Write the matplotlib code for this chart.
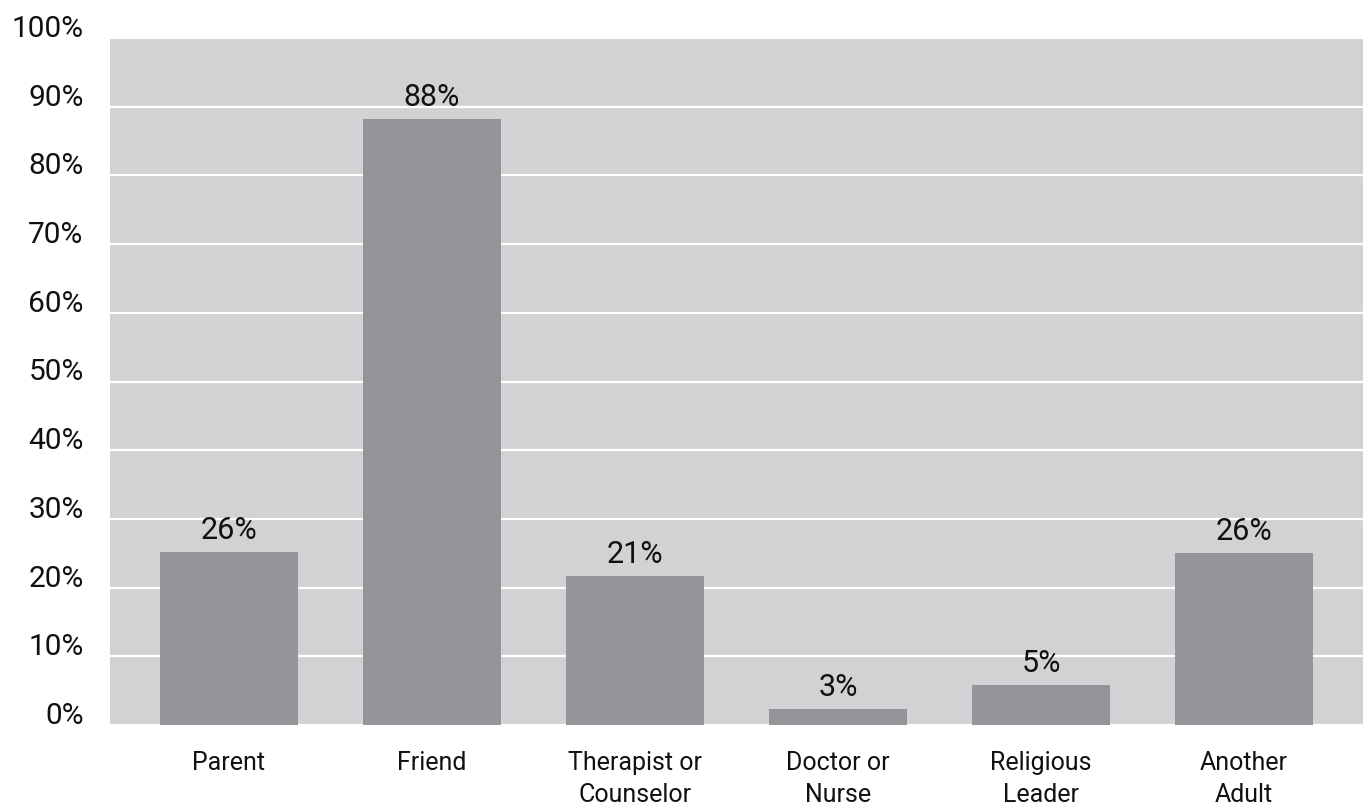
import numpy as np
import matplotlib as mpl
import matplotlib.pyplot as plt
import matplotlib.transforms as mtransforms

mpl.rcParams['font.family'] = ['Roboto', 'DejaVu Sans']

categories = ['Parent', 'Friend', 'Therapist or\nCounselor', 'Doctor or\nNurse',
              'Religious\nLeader', 'Another\nAdult']
values = [25.2, 88.2, 21.7, 2.3, 5.8, 25.1]
value_labels = ['26%', '88%', '21%', '3%', '5%', '26%']
yticks = np.arange(0, 101, 10)
ytick_labels = [f'{t}%' for t in yticks]

fig = plt.figure(figsize=(13.63, 8.06), dpi=100)
ax = fig.add_axes([110 / 1363, 81 / 806, 1253 / 1363, 687 / 806])
ax.set_facecolor('#d1d2d4')

x = np.arange(len(categories))
ax.bar(x, values, width=0.68, color='#939598', zorder=3)

for xi, v, lab in zip(x, values, value_labels):
    ax.annotate(lab, (xi, v), xytext=(0, 5), textcoords='offset points',
                ha='center', va='bottom', fontsize=22, color='#111111', zorder=4)

ax.set_xlim(-0.586, len(categories) - 1 + 0.586)
ax.set_ylim(0, 100)

ax.set_yticks(yticks)
ax.set_yticklabels(ytick_labels)
ax.grid(axis='y', color='white', linewidth=1.6, zorder=1)
ax.set_axisbelow(True)
ax.tick_params(axis='y', length=0, pad=19, labelsize=21.5, labelcolor='#111111')
offset = mtransforms.ScaledTranslation(0, 12 / 100, fig.dpi_scale_trans)
for lbl in ax.get_yticklabels():
    lbl.set_transform(lbl.get_transform() + offset)

ax.set_xticks(x)
ax.set_xticklabels(categories, fontsize=18, color='#111111', linespacing=1.4)
ax.tick_params(axis='x', length=0, pad=19)

for s in ax.spines.values():
    s.set_visible(False)

plt.savefig('out.png', dpi=100)
